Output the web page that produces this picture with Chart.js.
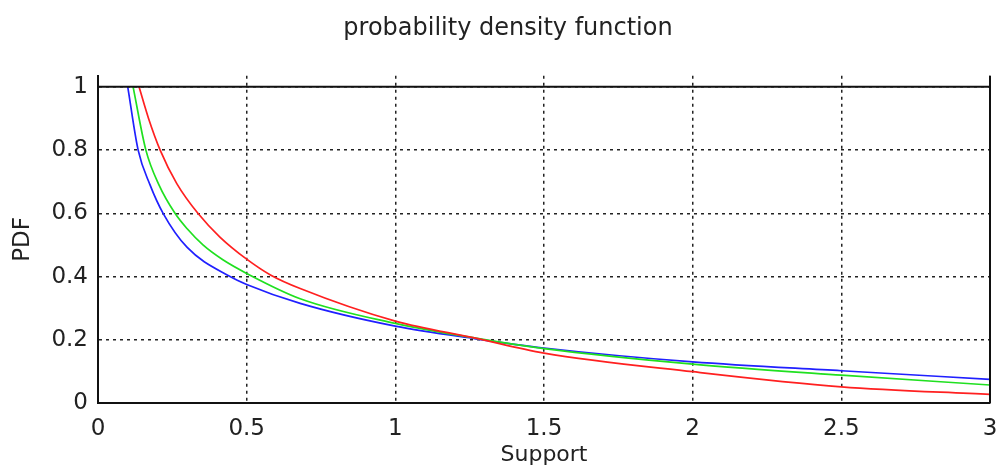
<!DOCTYPE html>
<html>
<head>
<meta charset="utf-8">
<script src="https://cdn.jsdelivr.net/npm/chart.js@4"></script>
<style>
  body { margin: 0; background: #fff; }
  canvas { display: block; }
</style>
</head>
<body>
<canvas id="myChart" width="1003" height="471"></canvas>
<script>
// values
const blueX = [0.10, 0.135, 0.175, 0.219, 0.30, 0.444, 0.50, 0.68, 1.00, 1.27, 1.50, 2.00, 2.50, 3.00];
const blueY = [1.00, 0.80, 0.69, 0.60, 0.492, 0.40, 0.375, 0.315, 0.243, 0.203, 0.174, 0.130, 0.102, 0.075];
const greenX = [0.118, 0.161, 0.205, 0.259, 0.30, 0.353, 0.42, 0.50, 0.68, 1.00, 1.27, 1.50, 2.00, 2.50, 3.00];
const greenY = [1.00, 0.80, 0.69, 0.60, 0.551, 0.50, 0.453, 0.41, 0.33, 0.252, 0.205, 0.172, 0.123, 0.088, 0.057];
const redX = [0.138, 0.17, 0.209, 0.265, 0.336, 0.41, 0.50, 0.58, 0.68, 1.00, 1.27, 1.50, 2.00, 2.50, 3.00];
const redY = [1.00, 0.90, 0.80, 0.694, 0.60, 0.525, 0.455, 0.405, 0.362, 0.259, 0.205, 0.158, 0.099, 0.051, 0.027];
const xTicks = [0, 0.5, 1, 1.5, 2, 2.5, 3];
const yTicks = [0, 0.2, 0.4, 0.6, 0.8, 1];

function pts(xs, ys) {
    return xs.map((x, i) => ({ x: x, y: ys[i] }));
}

// right edge of the box, the solid line at 1, and title nudged right
const frame = {
    id: 'frame',
    afterLayout(chart) {
        const t = chart.titleBlock;
        if (t) { t.left += 13; t.right += 13; }
    },
    afterDraw(chart) {
        const ctx = chart.ctx;
        const a = chart.chartArea;
        const y1 = chart.scales.y.getPixelForValue(1);
        ctx.save();
        ctx.strokeStyle = '#111';
        ctx.lineWidth = 2;
        ctx.beginPath();
        ctx.moveTo(a.right, a.top);
        ctx.lineTo(a.right, a.bottom);
        ctx.moveTo(a.left, y1);
        ctx.lineTo(a.right, y1);
        ctx.stroke();
        ctx.restore();
    }
};

const fam = 'DejaVu Sans, sans-serif';
const tickFont = { family: fam, size: 23 };

const ctx = document.getElementById('myChart');
const myChart = new Chart(ctx, {
    type: 'line',
    data: {
        datasets: [
            { data: pts(redX, redY), borderColor: '#ff2020', borderWidth: 1.7 },
            { data: pts(greenX, greenY), borderColor: '#20e020', borderWidth: 1.7 },
            { data: pts(blueX, blueY), borderColor: '#2020ff', borderWidth: 1.7 }
        ]
    },
    options: {
        responsive: false,
        animation: false,
        cubicInterpolationMode: 'monotone',
        elements: { point: { radius: 0 } },
        layout: { padding: { left: 0, right: 13, top: 0, bottom: 0 } },
        plugins: {
            legend: { display: false },
            tooltip: { enabled: false },
            title: {
                display: true,
                text: 'probability density function',
                color: '#222',
                font: { family: fam, size: 24, weight: 'normal' },
                padding: { top: 14, bottom: 33 }
            }
        },
        scales: {
            x: {
                type: 'linear',
                min: 0,
                max: 3,
                afterBuildTicks: s => { s.ticks = xTicks.map(v => ({ value: v })); },
                afterFit: s => { s.height = 68; s.paddingLeft = 0; s.paddingRight = 0; },
                ticks: { color: '#222', font: tickFont, padding: 12, maxRotation: 0, callback: v => String(v) },
                grid: { color: '#222', lineWidth: 1.5, drawTicks: false },
                border: { color: '#111', width: 2, dash: [3, 4] },
                title: {
                    display: true,
                    text: 'Support',
                    color: '#222',
                    font: { family: fam, size: 22 },
                    padding: { top: 3, bottom: 3 }
                }
            },
            y: {
                min: 0,
                max: 1.035,
                afterBuildTicks: s => { s.ticks = yTicks.map(v => ({ value: v })); },
                afterFit: s => { s.width = 98; },
                ticks: { color: '#222', font: tickFont, padding: 10, callback: v => String(v) },
                grid: { color: '#222', lineWidth: 1.5, drawTicks: false },
                border: { color: '#111', width: 2, dash: [3, 4] },
                title: {
                    display: true,
                    text: 'PDF',
                    color: '#222',
                    font: { family: fam, size: 23 },
                    padding: { top: 9, bottom: 0 }
                }
            }
        }
    },
    plugins: [frame]
});
</script>
</body>
</html>
